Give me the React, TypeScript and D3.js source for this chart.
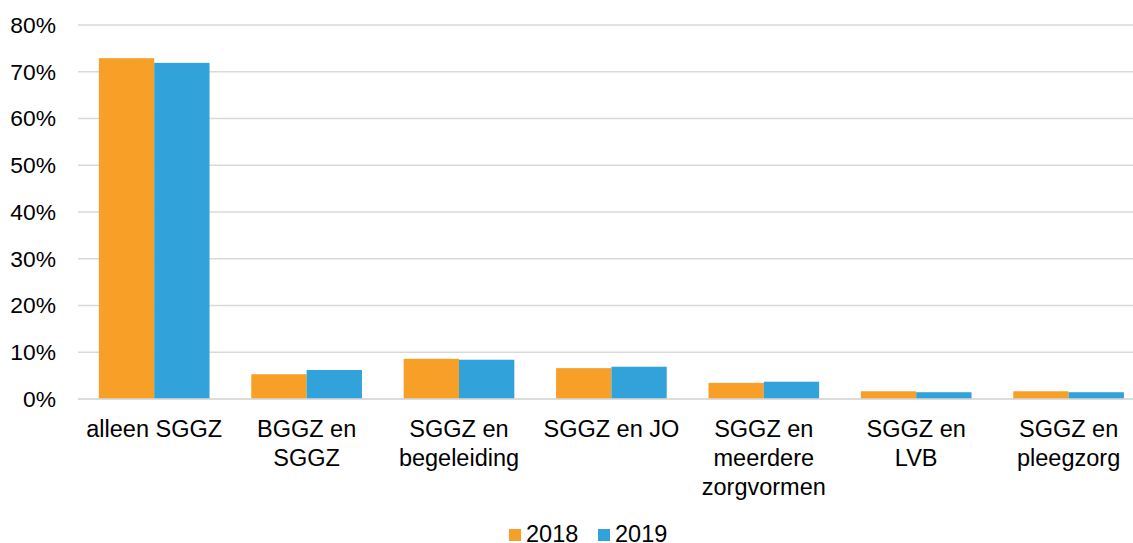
import React, { useEffect, useRef } from "react";
import * as d3 from "d3";

const categories = [
  "alleen SGGZ",
  "BGGZ en SGGZ",
  "SGGZ en begeleiding",
  "SGGZ en JO",
  "SGGZ en meerdere zorgvormen",
  "SGGZ en LVB",
  "SGGZ en pleegzorg",
];
const seriesNames = ["2018", "2019"];
const values2018 = [72.9, 5.3, 8.6, 6.6, 3.45, 1.65, 1.65];
const values2019 = [71.9, 6.2, 8.4, 6.9, 3.7, 1.45, 1.45];
const yTicks = [0, 10, 20, 30, 40, 50, 60, 70, 80];
const colors = ["#F79F27", "#31A3DA"];

const W = 1133;
const H = 543;
const FONT = "'Liberation Sans', Arial, sans-serif";

export default function App() {
  const ref = useRef<SVGSVGElement>(null);

  useEffect(() => {
    const svg = d3.select(ref.current);
    svg.selectAll("*").remove();

    const left = 78;
    const step = 152.4;
    const right = left + step * categories.length;
    const top = 25;
    const bottom = 399;

    const x = d3
      .scaleBand<string>()
      .domain(categories)
      .range([left, right])
      .paddingInner(0.274)
      .paddingOuter(0.137);
    const x1 = d3.scaleBand<string>().domain(seriesNames).range([0, x.bandwidth()]);
    const y = d3.scaleLinear().domain([0, 80]).range([bottom, top]);

    // gridlines
    svg
      .append("g")
      .selectAll("line")
      .data(yTicks)
      .join("line")
      .attr("x1", left)
      .attr("x2", right)
      .attr("y1", (d) => y(d))
      .attr("y2", (d) => y(d))
      .attr("stroke", "#D9D9D9")
      .attr("stroke-width", 1.5);

    // y labels
    svg
      .append("g")
      .selectAll("text")
      .data(yTicks)
      .join("text")
      .attr("x", 56)
      .attr("y", (d) => y(d))
      .attr("dy", "0.35em")
      .attr("text-anchor", "end")
      .attr("font-family", FONT)
      .attr("font-size", 22.8)
      .attr("fill", "#000")
      .text((d) => `${d}%`);

    const series = [values2018, values2019];
    series.forEach((vals, si) => {
      svg
        .append("g")
        .selectAll("rect")
        .data(vals)
        .join("rect")
        .attr("x", (_, i) => (x(categories[i]) as number) + (x1(seriesNames[si]) as number))
        .attr("width", x1.bandwidth())
        .attr("y", (d) => y(d))
        .attr("height", (d) => y(0) - y(d))
        .attr("fill", colors[si]);
    });

    // baseline on top
    svg
      .append("line")
      .attr("x1", left)
      .attr("x2", right)
      .attr("y1", y(0))
      .attr("y2", y(0))
      .attr("stroke", "#D9D9D9")
      .attr("stroke-width", 1.5);

    // x labels with wrapping
    const maxW = 145;
    const lineH = 29;
    const firstY = 437;
    const xg = svg.append("g");
    categories.forEach((c) => {
      const cx = (x(c) as number) + x.bandwidth() / 2;
      const t = xg
        .append("text")
        .attr("x", cx)
        .attr("y", firstY)
        .attr("text-anchor", "middle")
        .attr("font-family", FONT)
        .attr("font-size", 23.5)
        .attr("fill", "#000");
      const words = c.split(" ");
      let line: string[] = [];
      let lineNo = 0;
      let ts = t.append("tspan").attr("x", cx).attr("y", firstY);
      words.forEach((w) => {
        line.push(w);
        ts.text(line.join(" "));
        const node = ts.node() as SVGTSpanElement;
        if (node.getComputedTextLength() > maxW && line.length > 1) {
          line.pop();
          ts.text(line.join(" "));
          line = [w];
          lineNo++;
          ts = t
            .append("tspan")
            .attr("x", cx)
            .attr("y", firstY + lineNo * lineH)
            .text(w);
        }
      });
    });

    // legend
    const lg = svg.append("g");
    const legendX = [509, 598];
    seriesNames.forEach((s, i) => {
      lg.append("rect")
        .attr("x", legendX[i])
        .attr("y", 529)
        .attr("width", 12)
        .attr("height", 12)
        .attr("fill", colors[i]);
      lg.append("text")
        .attr("x", legendX[i] + 17)
        .attr("y", 533.5)
        .attr("dy", "0.35em")
        .attr("font-family", FONT)
        .attr("font-size", 23.5)
        .attr("fill", "#000")
        .text(s);
    });
  }, []);

  return (
    <svg
      ref={ref}
      width={W}
      height={H}
      style={{ position: "absolute", left: 0, top: 0, background: "#fff" }}
    />
  );
}
